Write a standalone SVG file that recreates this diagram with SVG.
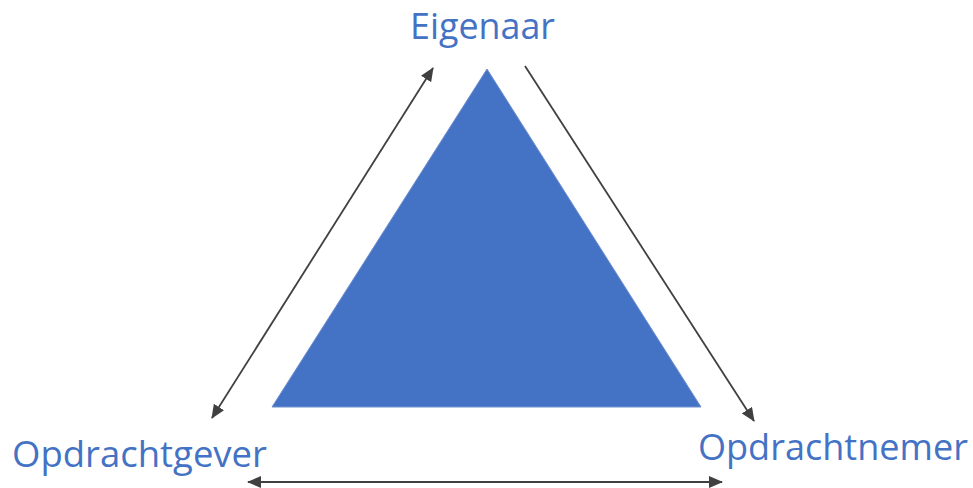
<svg xmlns="http://www.w3.org/2000/svg" width="973" height="488" viewBox="0 0 973 488">
<defs>
<marker id="ah" viewBox="0 0 14 12" refX="13" refY="6" markerWidth="14" markerHeight="12" markerUnits="userSpaceOnUse" orient="auto-start-reverse">
<path d="M0,0 L14,6 L0,12 z" fill="#404040"/>
</marker>
<style>
.lbl{font-family:"Open Sans","Liberation Sans",sans-serif;font-size:36px;fill:#4472C4}
.con{stroke:#404040;stroke-width:1.8;fill:none}
</style>
</defs>
<rect width="973" height="488" fill="#ffffff"/>
<g id="triangle">
<polygon points="487,69 272,407 701,407" fill="#4472C4" stroke="#6f8fd0" stroke-width="1"/>
</g>
<g id="eigenaar"><text class="lbl" x="410" y="39" textLength="145" lengthAdjust="spacingAndGlyphs">Eigenaar</text></g>
<g id="opdrachtgever"><text class="lbl" x="12" y="467" textLength="255" lengthAdjust="spacingAndGlyphs">Opdrachtgever</text></g>
<g id="opdrachtnemer"><text class="lbl" x="698" y="460" textLength="270" lengthAdjust="spacingAndGlyphs">Opdrachtnemer</text></g>
<g id="connectors">
<line class="con" x1="212" y1="418" x2="433" y2="68" style="marker-start:url(#ah);marker-end:url(#ah)"/>
<line class="con" x1="525" y1="66" x2="754" y2="421" style="marker-end:url(#ah)"/>
<line class="con" x1="248" y1="482" x2="722" y2="482" style="marker-start:url(#ah);marker-end:url(#ah)"/>
</g>
</svg>
